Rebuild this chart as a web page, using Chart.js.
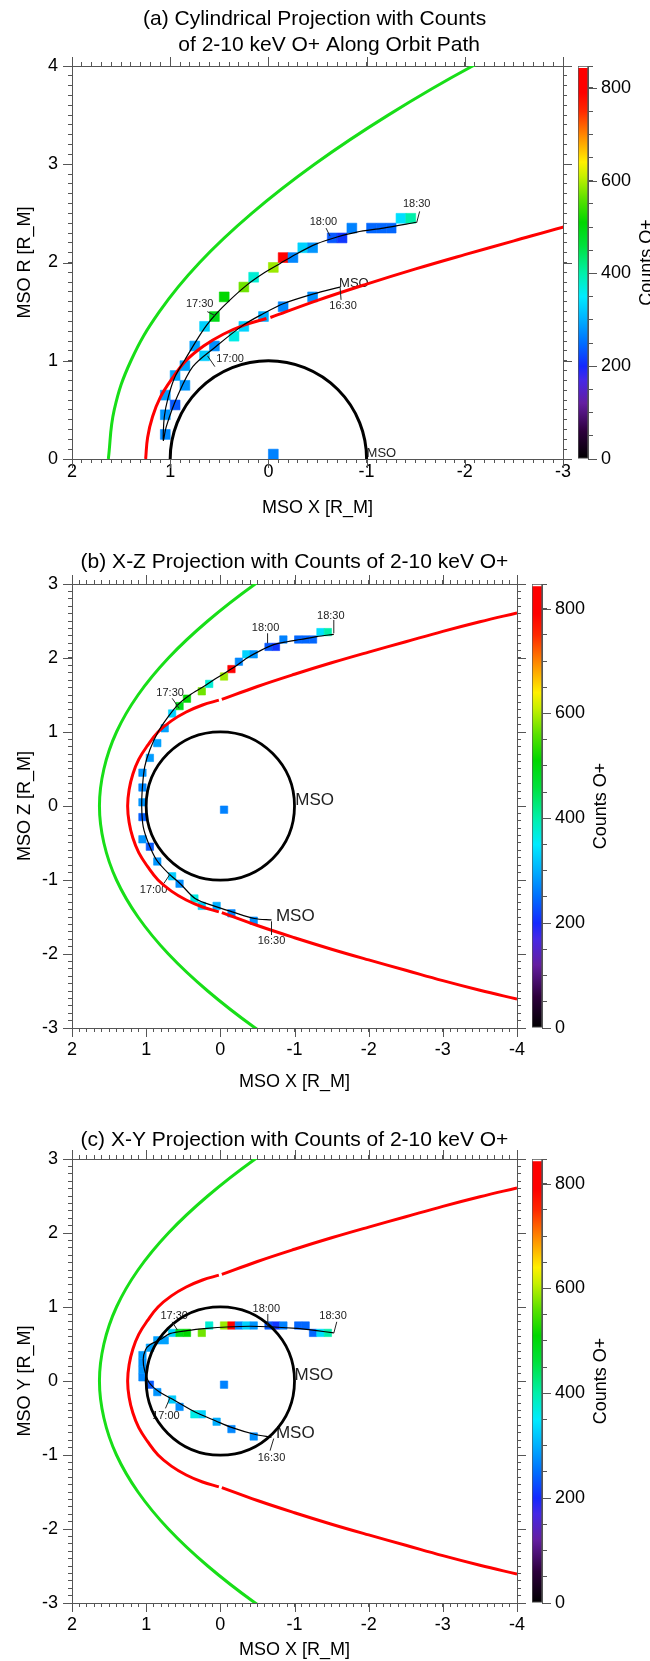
<!DOCTYPE html>
<html>
<head>
<meta charset="utf-8">
<script src="https://cdn.jsdelivr.net/npm/chart.js@4.4.1/dist/chart.umd.min.js"></script>
<style>
  html, body { margin: 0; padding: 0; background: #ffffff; }
  body { position: relative; width: 650px; height: 1661px; overflow: hidden; }
  canvas { position: absolute; }
</style>
</head>
<body>
<canvas id="mapA" width="650" height="530" style="left:0;top:0"></canvas>
<canvas id="barA" width="80" height="530" style="left:570px;top:0"></canvas>
<canvas id="mapB" width="650" height="560" style="left:0;top:540px"></canvas>
<canvas id="barB" width="126" height="560" style="left:524px;top:540px"></canvas>
<canvas id="mapC" width="650" height="561" style="left:0;top:1100px"></canvas>
<canvas id="barC" width="126" height="561" style="left:524px;top:1100px"></canvas>
<script>
const FONT = "'Liberation Sans', Arial, Helvetica, sans-serif";
const NARROW = "'Liberation Sans Narrow', 'Liberation Sans', Arial, sans-serif";
const FRAME = '#555';
Chart.defaults.font.family = FONT;
Chart.defaults.color = '#000';

// ---------- values ----------
const binSize = 0.1;        // one count cell, R_M
const planetRadius = 1;

// axis tick labels
const aXTicks = [2, 1, 0, -1, -2, -3];
const aYTicks = [0, 1, 2, 3, 4];
const bcXTicks = [2, 1, 0, -1, -2, -3, -4];
const bcYTicks = [-3, -2, -1, 0, 1, 2, 3];
const cbTicks = [0, 200, 400, 600, 800];
const cbMax = 847;
const cbLabel = 'Counts O+';

// bow shock (green), X against distance from the X axis
const bowX = [1.63, 1.57, 1.40, 1.11, 0.70, 0.17, -0.47, -1.22, -2.08, -2.90];
const bowR = [0, 0.5, 1.0, 1.5, 2.0, 2.5, 3.0, 3.5, 4.0, 4.4];
// same boundary, both halves, for the X-Z and X-Y cuts
const bowFullX = [-1.22, -0.47, 0.17, 0.70, 1.11, 1.40, 1.57, 1.63, 1.57, 1.40, 1.11, 0.70, 0.17, -0.47, -1.22];
const bowFullZ = [3.5, 3.0, 2.5, 2.0, 1.5, 1.0, 0.5, 0, -0.5, -1.0, -1.5, -2.0, -2.5, -3.0, -3.5];

// magnetopause (red): dayside piece and tail piece
const mpDayX = [1.25, 1.23, 1.18, 1.10, 0.98, 0.84, 0.66, 0.46, 0.24, 0.02];
const mpDayR = [0, 0.22, 0.43, 0.63, 0.82, 1.00, 1.15, 1.27, 1.365, 1.43];
const mpTailX = [-0.02, -0.5, -1.0, -1.5, -2.0, -2.5, -3.0, -3.5, -4.0];
const mpTailR = [1.44, 1.615, 1.78, 1.935, 2.08, 2.22, 2.36, 2.49, 2.61];
const mpDayFullX = [0.02, 0.24, 0.46, 0.66, 0.84, 0.98, 1.10, 1.18, 1.23, 1.25, 1.23, 1.18, 1.10, 0.98, 0.84, 0.66, 0.46, 0.24, 0.02];
const mpDayFullZ = [1.43, 1.365, 1.27, 1.15, 1.00, 0.82, 0.63, 0.43, 0.22, 0, -0.22, -0.43, -0.63, -0.82, -1.00, -1.15, -1.27, -1.365, -1.43];
const mpTailLowZ = [-1.44, -1.615, -1.78, -1.935, -2.08, -2.22, -2.36, -2.49, -2.61];

// orbit track 16:30 -> 18:30
const aOrbitX = [-0.73, -0.46, -0.15, 0.05, 0.26, 0.54, 0.77, 0.93, 1.04, 1.07, 1.06, 1.02, 0.95, 0.85, 0.73, 0.63, 0.53, 0.39, 0.22, 0.05, -0.12, -0.29, -0.49, -0.70, -0.90, -1.17, -1.51];
const aOrbitR = [1.75, 1.68, 1.58, 1.48, 1.36, 1.14, 0.94, 0.63, 0.33, 0.19, 0.43, 0.63, 0.84, 1.01, 1.21, 1.36, 1.48, 1.62, 1.77, 1.89, 1.99, 2.09, 2.19, 2.26, 2.31, 2.35, 2.41];
const bOrbitX = [-0.69, -0.46, -0.16, 0.06, 0.34, 0.54, 0.70, 0.86, 0.97, 1.04, 1.06, 1.05, 1.02, 0.95, 0.84, 0.70, 0.57, 0.41, 0.23, 0.05, -0.18, -0.36, -0.54, -0.72, -0.90, -1.08, -1.30, -1.53];
const bOrbitZ = [-1.54, -1.52, -1.43, -1.36, -1.25, -1.05, -0.91, -0.73, -0.50, -0.28, -0.01, 0.26, 0.53, 0.76, 1.00, 1.21, 1.37, 1.50, 1.61, 1.73, 1.87, 2.00, 2.10, 2.18, 2.22, 2.25, 2.29, 2.32];
const cOrbitX = [-0.69, -0.46, -0.16, 0.06, 0.34, 0.62, 0.82, 0.96, 1.02, 1.04, 1.01, 0.95, 0.81, 0.68, 0.45, 0.18, -0.09, -0.40, -0.72, -1.03, -1.30, -1.53];
const cOrbitY = [-0.76, -0.72, -0.63, -0.54, -0.42, -0.26, -0.15, -0.02, 0.14, 0.29, 0.42, 0.49, 0.56, 0.64, 0.68, 0.71, 0.73, 0.74, 0.73, 0.71, 0.68, 0.65];

// count cells: centre X, centre (R, Z or Y), counts of 2-10 keV O+
const aCellX = [-0.45, -0.15, 0.05, 0.25, 0.35, 0.55, 0.65, 0.85, 0.95, 1.05, 1.05, 1.05, 0.95, 0.85, 0.75, 0.65, 0.55, 0.45, 0.25, 0.15, -0.05, -0.15, -0.25, -0.35, -0.45, -0.65, -0.75, -0.85, -1.05, -1.15, -1.25, -1.35, -1.45, -0.05];
const aCellR = [1.65, 1.55, 1.45, 1.35, 1.25, 1.15, 1.05, 0.75, 0.55, 0.25, 0.45, 0.65, 0.85, 0.95, 1.15, 1.35, 1.45, 1.65, 1.75, 1.85, 1.95, 2.05, 2.05, 2.15, 2.15, 2.25, 2.25, 2.35, 2.35, 2.35, 2.35, 2.45, 2.45, 0.05];
const aCounts = [275, 270, 300, 330, 365, 275, 325, 280, 235, 270, 280, 285, 290, 290, 290, 330, 490, 510, 570, 375, 590, 800, 270, 330, 280, 235, 210, 265, 245, 245, 245, 340, 400, 265];

const bCellX = [-0.45, -0.15, 0.05, 0.25, 0.35, 0.55, 0.65, 0.85, 0.95, 1.05, 1.05, 1.05, 1.05, 1.05, 0.95, 0.85, 0.75, 0.65, 0.55, 0.45, 0.25, 0.15, -0.05, -0.15, -0.25, -0.35, -0.45, -0.65, -0.75, -0.85, -1.05, -1.15, -1.25, -1.35, -1.45, -0.05];
const bCellZ = [-1.55, -1.45, -1.35, -1.35, -1.25, -1.05, -0.95, -0.75, -0.55, -0.45, -0.15, 0.05, 0.25, 0.45, 0.65, 0.85, 1.05, 1.25, 1.35, 1.45, 1.55, 1.65, 1.75, 1.85, 1.95, 2.05, 2.05, 2.15, 2.15, 2.25, 2.25, 2.25, 2.25, 2.35, 2.35, -0.05];
const bCounts = [275, 270, 300, 330, 365, 275, 325, 280, 235, 280, 240, 280, 270, 280, 285, 290, 290, 330, 490, 510, 570, 375, 590, 800, 270, 330, 280, 235, 210, 265, 245, 245, 245, 340, 400, 265];

const cCellX = [-0.45, -0.15, 0.05, 0.25, 0.35, 0.55, 0.65, 0.85, 0.95, 1.05, 1.05, 1.05, 1.05, 0.95, 0.85, 0.75, 0.65, 0.55, 0.45, 0.25, 0.15, -0.05, -0.15, -0.25, -0.35, -0.45, -0.65, -0.75, -0.85, -1.05, -1.15, -1.25, -1.35, -1.45, -0.05];
const cCellY = [-0.75, -0.65, -0.55, -0.45, -0.45, -0.35, -0.25, -0.15, -0.05, 0.05, 0.15, 0.25, 0.35, 0.45, 0.55, 0.55, 0.65, 0.65, 0.65, 0.65, 0.75, 0.75, 0.75, 0.75, 0.75, 0.75, 0.75, 0.75, 0.75, 0.75, 0.75, 0.65, 0.65, 0.65, -0.05];
const cCounts = [275, 270, 300, 330, 365, 275, 325, 280, 235, 270, 280, 280, 285, 290, 290, 290, 330, 490, 510, 570, 375, 590, 800, 270, 330, 280, 235, 210, 265, 245, 245, 245, 340, 400, 265];

// time ticks along the track [x1, y1, x2, y2]
const aTimeTicks = [[-0.73, 1.75, -0.74, 1.62], [0.62, 1.05, 0.545, 0.94], [0.544, 1.46, 0.622, 1.50], [-0.627, 2.27, -0.587, 2.35], [-1.51, 2.405, -1.54, 2.52]];
const bTimeTicks = [[-0.69, -1.563, -0.69, -1.743], [0.677, -0.919, 0.761, -1.045], [0.555, 1.32, 0.649, 1.455], [-0.637, 2.199, -0.637, 2.334], [-1.53, 2.334, -1.53, 2.514]];
const cTimeTicks = [[-0.72, -0.778, -0.67, -0.942], [0.68, -0.23, 0.74, -0.37], [0.58, 0.69, 0.65, 0.80], [-0.64, 0.74, -0.64, 0.905], [-1.53, 0.647, -1.57, 0.80]];

// colour table of the colour bar (counts -> rgb)
const cmapVals = [0, 60, 120, 170, 200, 250, 300, 350, 400, 460, 510, 560, 610, 640, 690, 750, 790, 842];
const cmapCols = [[0,0,0],[45,0,60],[100,30,160],[70,40,230],[20,40,255],[0,110,255],[0,175,255],[0,235,255],[0,240,170],[0,225,60],[0,215,0],[90,225,0],[200,240,0],[255,240,0],[255,150,0],[255,40,0],[255,0,0],[255,0,0]];

const SMALL = '11px ' + NARROW;
const labelSets = {
  mapA: [
    {t: 'MSO', x: -0.72, y: 1.79, a: 'left', f: '13px ' + FONT},
    {t: '16:30', x: -0.76, y: 1.56, a: 'center', f: SMALL},
    {t: '17:00', x: 0.53, y: 1.02, a: 'left', f: SMALL},
    {t: '17:30', x: 0.70, y: 1.575, a: 'center', f: SMALL},
    {t: '18:00', x: -0.56, y: 2.415, a: 'center', f: SMALL},
    {t: '18:30', x: -1.51, y: 2.60, a: 'center', f: SMALL},
    {t: 'MSO', x: -1.0, y: 0.055, a: 'left', f: '13px ' + FONT}
  ],
  mapB: [
    {t: 'MSO', x: -0.75, y: -1.49, a: 'left', f: '17px ' + FONT},
    {t: '16:30', x: -0.69, y: -1.82, a: 'center', f: SMALL},
    {t: '17:00', x: 0.90, y: -1.135, a: 'center', f: SMALL},
    {t: '17:30', x: 0.677, y: 1.531, a: 'center', f: SMALL},
    {t: '18:00', x: -0.61, y: 2.40, a: 'center', f: SMALL},
    {t: '18:30', x: -1.49, y: 2.57, a: 'center', f: SMALL},
    {t: 'MSO', x: -1.01, y: 0.08, a: 'left', f: '17px ' + FONT}
  ],
  mapC: [
    {t: 'MSO', x: -0.75, y: -0.712, a: 'left', f: '17px ' + FONT},
    {t: '16:30', x: -0.69, y: -1.034, a: 'center', f: SMALL},
    {t: '17:00', x: 0.734, y: -0.473, a: 'center', f: SMALL},
    {t: '17:30', x: 0.622, y: 0.881, a: 'center', f: SMALL},
    {t: '18:00', x: -0.62, y: 0.978, a: 'center', f: SMALL},
    {t: '18:30', x: -1.52, y: 0.881, a: 'center', f: SMALL},
    {t: 'MSO', x: -1.0, y: 0.077, a: 'left', f: '17px ' + FONT}
  ]
};
const majorsBy = {
  mapA: {x: aXTicks, y: aYTicks},
  mapB: {x: bcXTicks, y: bcYTicks},
  mapC: {x: bcXTicks, y: bcYTicks},
  barA: {y: cbTicks}, barB: {y: cbTicks}, barC: {y: cbTicks}
};

// ---------- helpers ----------
function pts(xs, ys) { return xs.map((x, i) => ({x: x, y: ys[i]})); }

function countColor(v) {
  for (let i = 1; i < cmapVals.length; i++) {
    if (v <= cmapVals[i]) {
      const f = (v - cmapVals[i - 1]) / (cmapVals[i] - cmapVals[i - 1]);
      const a = cmapCols[i - 1], b = cmapCols[i];
      return 'rgb(' + a.map((c, k) => Math.round(c + (b[k] - c) * f)).join(',') + ')';
    }
  }
  return 'rgb(255,0,0)';
}

function isMajor(v, majors) { return majors.some(m => Math.abs(m - v) < 1e-6); }

function pixelsPer(chart, d) {
  const sx = chart.scales.x;
  return Math.abs(sx.getPixelForValue(d) - sx.getPixelForValue(0));
}

function line(data, color, width, tension) {
  return {data: data, showLine: true, borderColor: color, borderWidth: width, pointRadius: 0, tension: tension, clip: 0};
}

// time / MSO annotations, drawn under the lines like in the original
const orbitLabels = {
  id: 'orbitLabels',
  beforeDatasetsDraw(chart) {
    const items = labelSets[chart.canvas.id] || [];
    const ctx = chart.ctx, sx = chart.scales.x, sy = chart.scales.y;
    ctx.save();
    ctx.fillStyle = '#222';
    ctx.textBaseline = 'middle';
    items.forEach(it => {
      ctx.font = it.f;
      ctx.textAlign = it.a;
      ctx.fillText(it.t, sx.getPixelForValue(it.x), sy.getPixelForValue(it.y));
    });
    ctx.restore();
  }
};

// longer tick marks at the labelled values
const majorTicks = {
  id: 'majorTicks',
  afterDraw(chart) {
    const set = majorsBy[chart.canvas.id];
    if (!set) return;
    const ctx = chart.ctx, L = 9;
    ctx.save();
    ctx.strokeStyle = FRAME;
    ctx.lineWidth = 1;
    Object.values(chart.scales).forEach(s => {
      const majors = set[s.axis];
      if (!majors || s.options.display === false) return;
      majors.forEach(v => {
        const p = Math.round(s.getPixelForValue(v)) + 0.5;
        ctx.beginPath();
        if (s.position === 'bottom') { ctx.moveTo(p, s.top); ctx.lineTo(p, s.top + L); }
        else if (s.position === 'top') { ctx.moveTo(p, s.bottom); ctx.lineTo(p, s.bottom - L); }
        else if (s.position === 'left') { ctx.moveTo(s.right, p); ctx.lineTo(s.right - L, p); }
        else { ctx.moveTo(s.left, p); ctx.lineTo(s.left + L, p); }
        ctx.stroke();
      });
    });
    ctx.restore();
  }
};

function frameAxis(axis, position, min, max, majors, o) {
  const isX = axis === 'x';
  const cfg = {
    type: 'linear', axis: axis, position: position, min: min, max: max, reverse: isX,
    border: {display: true, color: FRAME, width: 1},
    grid: {drawOnChartArea: false, drawTicks: true, tickLength: 4, tickColor: FRAME, tickWidth: 1},
    ticks: {stepSize: 0.1, autoSkip: false, maxRotation: 0, minRotation: 0, padding: o.pad || 0,
      color: '#000', font: {family: FONT, size: 18},
      callback: v => (o.labels && isMajor(v, majors)) ? String(Math.round(v)) : ''},
    title: {display: false},
    afterFit: s => { if (isX) s.height = o.size; else s.width = o.size; }
  };
  if (o.title) {
    cfg.title = {display: true, text: o.title, color: '#000', font: {family: FONT, size: 18},
      padding: isX ? {top: 0, bottom: o.titlePad} : {top: o.titlePad, bottom: 0}};
  }
  return cfg;
}

function buildMap(p) {
  const ds = [];
  p.ticks.forEach(s => ds.push(line([{x: s[0], y: s[1]}, {x: s[2], y: s[3]}], '#222', 1, 0)));
  ds.push(line(pts(p.orbitX, p.orbitY), '#000', 1.2, 0.3));
  ds.push({data: [{x: 0, y: 0}], pointStyle: 'circle', pointBackgroundColor: 'rgba(0,0,0,0)',
    pointBorderColor: '#000', pointBorderWidth: p.planetWidth, clip: 0,
    pointRadius: c => pixelsPer(c.chart, planetRadius)});
  p.red.forEach(d => ds.push(line(d, 'rgb(255,0,0)', 3, 0.4)));
  ds.push(line(p.green, 'rgb(24,222,24)', 3, 0.4));
  const colors = p.counts.map(countColor);
  ds.push({data: pts(p.cellX, p.cellY), pointStyle: 'rect', pointBackgroundColor: colors,
    pointBorderColor: colors, pointBorderWidth: 0.6, clip: 0,
    pointRadius: c => pixelsPer(c.chart, binSize) / Math.SQRT2});

  new Chart(document.getElementById(p.id), {
    type: 'scatter',
    data: {datasets: ds},
    options: {
      responsive: false, animation: false, events: [],
      layout: {padding: p.padding},
      plugins: {
        legend: {display: false}, tooltip: {enabled: false},
        title: {display: true, fullSize: false, text: p.title, color: '#000',
          font: {family: FONT, size: 21, weight: 'normal', lineHeight: '26px'}, padding: p.titlePad}
      },
      scales: {
        x: frameAxis('x', 'bottom', p.xMin, p.xMax, p.xTicks, {labels: true, pad: p.xPad, size: p.xSize, title: 'MSO X [R_M]', titlePad: p.xTitlePad}),
        x2: frameAxis('x', 'top', p.xMin, p.xMax, p.xTicks, {size: 6}),
        y: frameAxis('y', 'left', p.yMin, p.yMax, p.yTicks, {labels: true, pad: 10, size: 72, title: p.yTitle, titlePad: 14}),
        y2: frameAxis('y', 'right', p.yMin, p.yMax, p.yTicks, {size: 7})
      }
    },
    plugins: [orbitLabels, majorTicks]
  });
}

function barGradient(chart) {
  if (!chart.chartArea) return null;
  const sy = chart.scales.y;
  const g = chart.ctx.createLinearGradient(0, sy.getPixelForValue(0), 0, sy.getPixelForValue(cbMax));
  cmapVals.forEach((v, i) => g.addColorStop(v / cbMax, 'rgb(' + cmapCols[i].join(',') + ')'));
  g.addColorStop(Math.min(1, (cmapVals[cmapVals.length - 1] + 1) / cbMax), '#ffffff');
  g.addColorStop(1, '#ffffff');
  return g;
}

const cbTitle = {
  id: 'cbTitle',
  afterDraw(chart) {
    const s = chart.scales.y, ctx = chart.ctx;
    ctx.save();
    ctx.translate(chart.chartArea.right + 59, (s.top + s.bottom) / 2);
    ctx.rotate(-Math.PI / 2);
    ctx.font = '18px ' + FONT;
    ctx.fillStyle = '#000';
    ctx.textAlign = 'center';
    ctx.textBaseline = 'middle';
    ctx.fillText(cbLabel, 0, 0);
    ctx.restore();
  }
};

function buildBar(id, padding, axisWidth) {
  new Chart(document.getElementById(id), {
    type: 'bar',
    data: {labels: [''], datasets: [{data: [[0, cbMax]], backgroundColor: c => barGradient(c.chart),
      borderColor: FRAME, borderWidth: 1, borderSkipped: false, barPercentage: 1, categoryPercentage: 1}]},
    options: {
      responsive: false, animation: false, events: [],
      layout: {padding: padding},
      plugins: {legend: {display: false}, tooltip: {enabled: false}},
      scales: {
        x: {display: false},
        y: {position: 'right', min: 0, max: cbMax,
          border: {display: true, color: FRAME, width: 1},
          grid: {drawOnChartArea: false, tickLength: 5, tickColor: FRAME, tickWidth: 1},
          ticks: {stepSize: 50, autoSkip: false, padding: 8, color: '#000', font: {family: FONT, size: 18},
            callback: v => cbTicks.includes(v) ? String(v) : ''},
          afterFit: s => { s.width = axisWidth; }}
      }
    },
    plugins: [cbTitle, majorTicks]
  });
}

// ---------- the three panels ----------
buildMap({
  id: 'mapA', title: ['(a) Cylindrical Projection with Counts ', '    of 2-10 keV O+ Along Orbit Path'],
  titlePad: {top: 6, bottom: 2}, padding: {left: 0, top: 0, right: 80, bottom: 0},
  xMin: -3, xMax: 2, xTicks: aXTicks, xPad: -2, xSize: 71, xTitlePad: 11,
  yMin: 0, yMax: 4, yTicks: aYTicks, yTitle: 'MSO R [R_M]', planetWidth: 3,
  ticks: aTimeTicks, orbitX: aOrbitX, orbitY: aOrbitR,
  red: [pts(mpDayX, mpDayR), pts(mpTailX, mpTailR)], green: pts(bowX, bowR),
  cellX: aCellX, cellY: aCellR, counts: aCounts
});
buildMap({
  id: 'mapB', title: '(b) X-Z Projection with Counts of 2-10 keV O+',
  titlePad: {top: 9, bottom: 3}, padding: {left: 0, top: 0, right: 126, bottom: 0},
  xMin: -4, xMax: 2, xTicks: bcXTicks, xPad: 7, xSize: 72, xTitlePad: 7,
  yMin: -3, yMax: 3, yTicks: bcYTicks, yTitle: 'MSO Z [R_M]', planetWidth: 2.8,
  ticks: bTimeTicks, orbitX: bOrbitX, orbitY: bOrbitZ,
  red: [pts(mpDayFullX, mpDayFullZ), pts(mpTailX, mpTailR), pts(mpTailX, mpTailLowZ)], green: pts(bowFullX, bowFullZ),
  cellX: bCellX, cellY: bCellZ, counts: bCounts
});
buildMap({
  id: 'mapC', title: '(c) X-Y Projection with Counts of 2-10 keV O+',
  titlePad: {top: 27, bottom: 0}, padding: {left: 0, top: 0, right: 126, bottom: 0},
  xMin: -4, xMax: 2, xTicks: bcXTicks, xPad: 7, xSize: 58, xTitlePad: 0,
  yMin: -3, yMax: 3, yTicks: bcYTicks, yTitle: 'MSO Y [R_M]', planetWidth: 2.8,
  ticks: cTimeTicks, orbitX: cOrbitX, orbitY: cOrbitY,
  red: [pts(mpDayFullX, mpDayFullZ), pts(mpTailX, mpTailR), pts(mpTailX, mpTailLowZ)], green: pts(bowFullX, bowFullZ),
  cellX: cCellX, cellY: cCellY, counts: cCounts
});

buildBar('barA', {left: 8, top: 66, right: 0, bottom: 71}, 62);
buildBar('barB', {left: 8, top: 44, right: 0, bottom: 72}, 108);
buildBar('barC', {left: 8, top: 59, right: 0, bottom: 58}, 108);
</script>
</body>
</html>
